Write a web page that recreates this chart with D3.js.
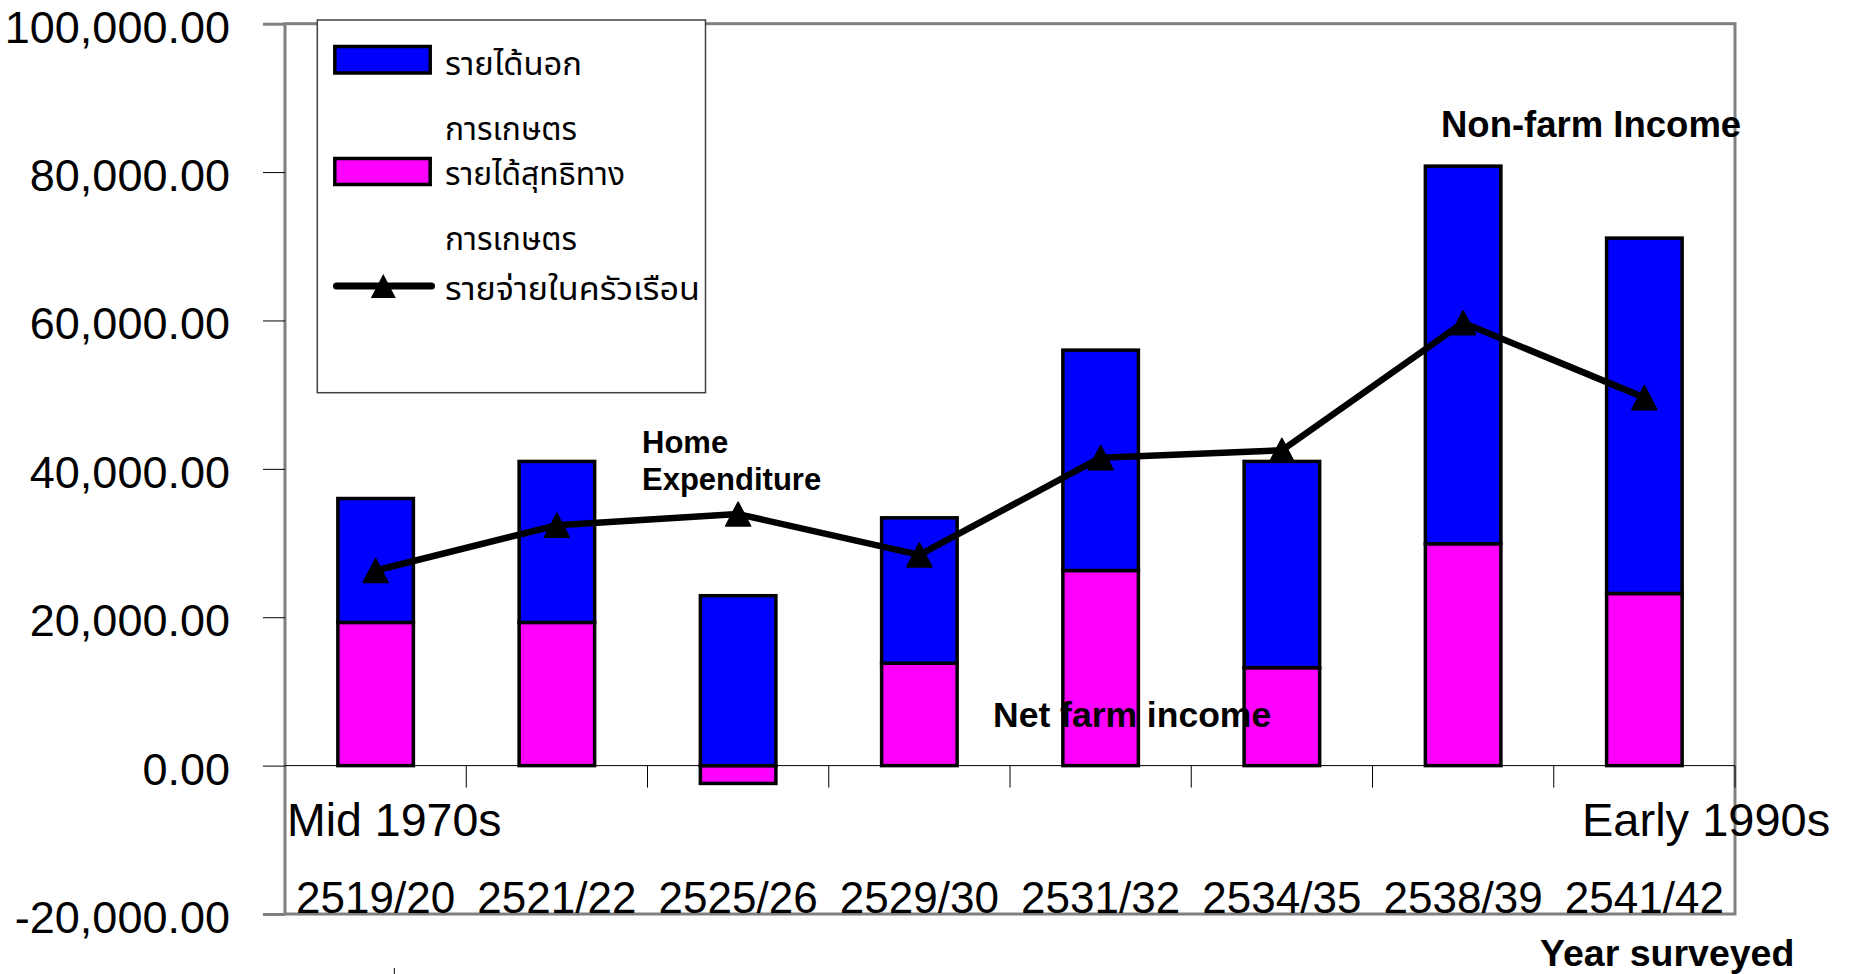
<!DOCTYPE html>
<html>
<head>
<meta charset="utf-8">
<script src="https://cdn.jsdelivr.net/npm/d3@7/dist/d3.min.js"></script>
<style>
  html, body { margin: 0; padding: 0; background: #fff; }
  svg { display: block; }
  .latin { font-family: "Liberation Sans", Arial, sans-serif; }
  .thai { font-family: "Noto Sans Thai", "Loma", "Garuda", "Norasi", "Tlwg Typo", "DejaVu Sans", sans-serif; }
</style>
</head>
<body>
<script>
// Household income and expenditure by survey year (baht)
const years = ["2519/20", "2521/22", "2525/26", "2529/30", "2531/32", "2534/35", "2538/39", "2541/42"];
const nonFarmIncome = [16700, 21700, 22900, 19600, 29700, 27800, 50900, 47900];
const netFarmIncome = [19300, 19300, -2400, 13800, 26300, 13200, 29900, 23200];
const homeExpenditure = [26300, 32400, 33900, 28400, 41500, 42500, 59700, 49600];
const yTicks = [-20000, 0, 20000, 40000, 60000, 80000, 100000];

const legendLabels = {
  nonFarm: ["รายได้นอก", "การเกษตร"],
  netFarm: ["รายได้สุทธิทาง", "การเกษตร"],
  expenditure: ["รายจ่ายในครัวเรือน"]
};

const W = 1856, H = 974;
const plot = { left: 285, right: 1735, top: 23.7, bottom: 914 };
const BLUE = "#0000ff", MAGENTA = "#ff00ff", FRAME = "#808080";

const svg = d3.select("body").append("svg")
  .attr("width", W).attr("height", H)
  .attr("viewBox", `0 0 ${W} ${H}`);

const x = d3.scaleBand()
  .domain(years)
  .range([plot.left, plot.right])
  .paddingInner(0.5833)
  .paddingOuter(0.29165);

const y = d3.scaleLinear()
  .domain([-20000, 100000])
  .range([plot.bottom, plot.top]);

const step = x.step();
const bw = x.bandwidth();
const cx = d => x(d) + bw / 2;

// Plot frame
svg.append("rect")
  .attr("x", plot.left).attr("y", plot.top)
  .attr("width", plot.right - plot.left)
  .attr("height", plot.bottom - plot.top)
  .attr("fill", "none")
  .attr("stroke", FRAME)
  .attr("stroke-width", 3);

// Value axis (plain hyphen for negatives)
const fmt = d3.format(",.2f");
const yAxis = svg.append("g")
  .attr("class", "latin")
  .attr("transform", `translate(${plot.left},0)`)
  .call(d3.axisLeft(y)
    .tickValues(yTicks)
    .tickFormat(d => fmt(d).replace("\u2212", "-"))
    .tickSize(22)
    .tickPadding(33));
yAxis.select(".domain").remove();
const isEnd = d => d === yTicks[0] || d === yTicks[yTicks.length - 1];
yAxis.selectAll(".tick line")
  .attr("stroke", d => isEnd(d) ? FRAME : "#000")
  .attr("stroke-width", d => isEnd(d) ? 3 : 1);
yAxis.selectAll(".tick text")
  .attr("fill", "#000")
  .attr("font-size", 45)
  .attr("dy", "0.41em");

// Zero line with category boundary ticks
const zeroY = y(0);
svg.append("line")
  .attr("x1", plot.left).attr("x2", plot.right)
  .attr("y1", zeroY).attr("y2", zeroY)
  .attr("stroke", "#000").attr("stroke-width", 1);

const boundaries = years.slice(1).map(d => x(d) - (step - bw) / 2).concat([plot.right]);
svg.append("g").selectAll("line")
  .data(boundaries)
  .join("line")
  .attr("x1", d => d).attr("x2", d => d)
  .attr("y1", zeroY).attr("y2", zeroY + 22)
  .attr("stroke", "#000").attr("stroke-width", 1);

// Stacked bars: net farm income from zero, non-farm income stacked on the positive side
const stackRows = years.map((yr, i) => {
  const farm = netFarmIncome[i];
  const nonFarm = nonFarmIncome[i];
  const base = Math.max(0, farm);
  return {
    year: yr,
    farm: [Math.min(0, farm), Math.max(0, farm)],
    nonFarm: [base, base + nonFarm]
  };
});

const bars = svg.append("g");
bars.selectAll("rect.farm")
  .data(stackRows)
  .join("rect")
  .attr("class", "farm")
  .attr("x", d => x(d.year))
  .attr("width", bw)
  .attr("y", d => y(d.farm[1]))
  .attr("height", d => y(d.farm[0]) - y(d.farm[1]))
  .attr("fill", MAGENTA)
  .attr("stroke", "#000").attr("stroke-width", 3.5);

bars.selectAll("rect.nonfarm")
  .data(stackRows)
  .join("rect")
  .attr("class", "nonfarm")
  .attr("x", d => x(d.year))
  .attr("width", bw)
  .attr("y", d => y(d.nonFarm[1]))
  .attr("height", d => y(d.nonFarm[0]) - y(d.nonFarm[1]))
  .attr("fill", BLUE)
  .attr("stroke", "#000").attr("stroke-width", 3.5);

// Home expenditure line with triangle markers
const expPoints = years.map((yr, i) => ({ year: yr, v: homeExpenditure[i] }));
const line = d3.line().x(d => cx(d.year)).y(d => y(d.v));
svg.append("path")
  .datum(expPoints)
  .attr("d", line)
  .attr("fill", "none")
  .attr("stroke", "#000")
  .attr("stroke-width", 6.5)
  .attr("stroke-linejoin", "round");

const tri = "M0,-12L12.5,12L-12.5,12Z";
svg.append("g").selectAll("path")
  .data(expPoints)
  .join("path")
  .attr("d", tri)
  .attr("transform", d => `translate(${cx(d.year)},${y(d.v)})`)
  .attr("fill", "#000")
  .attr("stroke", "#000").attr("stroke-width", 1.5).attr("stroke-linejoin", "round");

// Category labels
svg.append("g").attr("class", "latin").selectAll("text")
  .data(years)
  .join("text")
  .attr("x", d => cx(d))
  .attr("y", 912.5)
  .attr("text-anchor", "middle")
  .attr("font-size", 44)
  .attr("fill", "#000")
  .text(d => d);

// Annotations
const notes = svg.append("g").attr("class", "latin").attr("fill", "#000");
notes.append("text").attr("x", 642).attr("y", 453.3).attr("font-size", 31).attr("font-weight", "bold").text("Home");
notes.append("text").attr("x", 642).attr("y", 489.5).attr("font-size", 31).attr("font-weight", "bold").text("Expenditure");
notes.append("text").attr("x", 1441).attr("y", 136.7).attr("font-size", 36.5).attr("font-weight", "bold").text("Non-farm Income");
notes.append("text").attr("x", 993).attr("y", 727).attr("font-size", 35.5).attr("font-weight", "bold").text("Net farm income");
notes.append("text").attr("x", 287).attr("y", 835.6).attr("font-size", 46.5).text("Mid 1970s");
notes.append("text").attr("x", 1582).attr("y", 836).attr("font-size", 47).text("Early 1990s");
notes.append("text").attr("x", 1540).attr("y", 966).attr("font-size", 37.5).attr("font-weight", "bold").text("Year surveyed");
svg.append("line")
  .attr("x1", 394.3).attr("x2", 394.3).attr("y1", 968).attr("y2", 974)
  .attr("stroke", "#000").attr("stroke-width", 1);

// Legend
const lg = svg.append("g");
lg.append("rect")
  .attr("x", 317.3).attr("y", 20)
  .attr("width", 388.2).attr("height", 372.7)
  .attr("fill", "#fff")
  .attr("stroke", "#404040").attr("stroke-width", 1.5);

lg.append("rect")
  .attr("x", 334.8).attr("y", 46.5).attr("width", 95.4).attr("height", 26.5)
  .attr("fill", BLUE).attr("stroke", "#000").attr("stroke-width", 3.5);
lg.append("rect")
  .attr("x", 334.8).attr("y", 158.5).attr("width", 95.4).attr("height", 26)
  .attr("fill", MAGENTA).attr("stroke", "#000").attr("stroke-width", 3.5);
lg.append("line")
  .attr("x1", 336.5).attr("x2", 431.5).attr("y1", 286).attr("y2", 286)
  .attr("stroke", "#000").attr("stroke-width", 7).attr("stroke-linecap", "round");
lg.append("path")
  .attr("d", tri)
  .attr("transform", "translate(383.3,286)")
  .attr("fill", "#000");

const thaiRows = [
  { t: legendLabels.nonFarm[0], y: 75, len: 137 },
  { t: legendLabels.nonFarm[1], y: 140, len: 132 },
  { t: legendLabels.netFarm[0], y: 185, len: 180 },
  { t: legendLabels.netFarm[1], y: 250, len: 132 },
  { t: legendLabels.expenditure[0], y: 300, len: 255 }
];
lg.append("g").attr("class", "thai").selectAll("text")
  .data(thaiRows)
  .join("text")
  .attr("x", 445)
  .attr("y", d => d.y)
  .attr("font-size", 32)
  .attr("fill", "#000")
  .attr("textLength", d => d.len)
  .attr("lengthAdjust", "spacingAndGlyphs")
  .text(d => d.t);
</script>
</body>
</html>
